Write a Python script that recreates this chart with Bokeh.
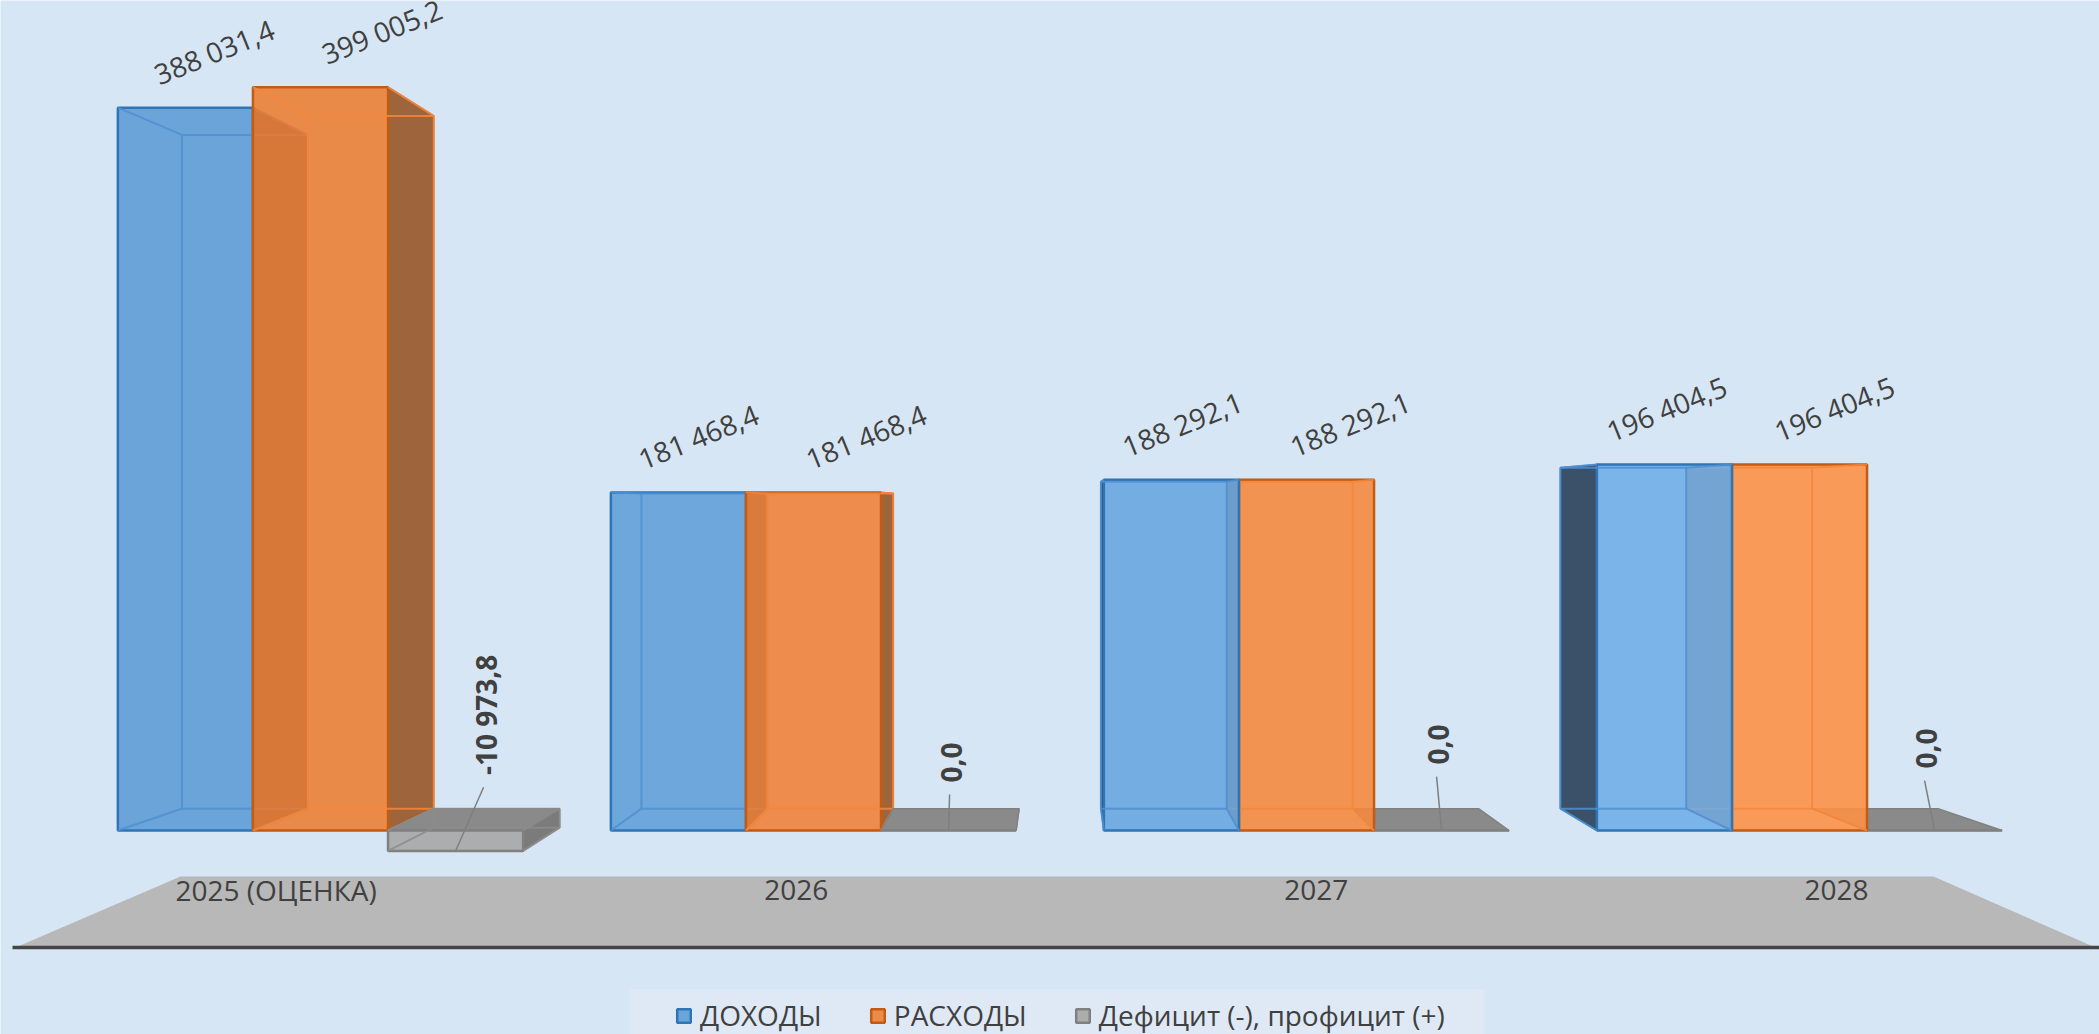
from bokeh.plotting import figure
from bokeh.models import Range1d, Legend, LegendItem
from bokeh.core.properties import value
from bokeh.embed import file_html
from bokeh.resources import INLINE

# ---------------- data ----------------
categories = ["2025 (ОЦЕНКА)", "2026", "2027", "2028"]
series_names = ["ДОХОДЫ", "РАСХОДЫ", "Дефицит (-), профицит (+)"]
revenue = [388031.4, 181468.4, 188292.1, 196404.5]
expense = [399005.2, 181468.4, 188292.1, 196404.5]
balance = [-10973.8, 0.0, 0.0, 0.0]


def fmt(v):
    return f"{v:,.1f}".replace(",", " ").replace(".", ",")


# ---------------- layout / style ----------------
W, H = 2099, 1034
MARGIN = 0
CAT_PX = 493.0      # page px per category
CAT0_PX = 320.0     # page x of first group centre
BASE_PX = 830.0     # page y of the value 0
UPP = 536.8         # value units per page px

def X(px):
    return (px - CAT0_PX) / CAT_PX

def Y(py):
    return (BASE_PX - py) * UPP

BAR_W = 0.274
VP_X = (len(categories) - 1) / 2.0
VP_Y = Y(508.7)
K = 0.932

def back(x, y):
    return VP_X + (x - VP_X) * K, VP_Y + (y - VP_Y) * K

def brighten(hexcol, d):
    r, g, b = (int(hexcol[k:k + 2], 16) for k in (1, 3, 5))
    return "#%02x%02x%02x" % tuple(min(255, c + d) for c in (r, g, b))

BG = "#d7e6f4"
FONT = value("Open Sans")
TXT = "#404040"
LIGHT = [0, 3, 10, 18]   # simulated lighting across the scene

styles = [
    dict(fill="#5b9bd5", alpha=0.88, line="#2e75b6", side="#3b5069", inner="#4f8fd1"),
    dict(fill="#ed7d31", alpha=0.88, line="#c55a11", side="#9e643b", inner="#f2873c"),
    dict(fill="#aaaaaa", alpha=0.95, line="#808080", side="#7b7b7b", inner="#8c8c8c", top="#8a8a8a"),
]

p = figure(width=W, height=H,
           x_range=Range1d(X(MARGIN), X(MARGIN + W)),
           y_range=Range1d(Y(MARGIN + H), Y(MARGIN)),
           output_backend="svg", toolbar_location=None, min_border=0,
           x_axis_location=None, y_axis_location=None,
           background_fill_color=BG, border_fill_color=BG, outline_line_color=None)
p.grid.visible = False

# ---------------- floor ----------------
ft, fb = Y(876), Y(947)
p.patch([X(15), X(180), X(1933), X(2095)], [fb, ft, ft, fb],
        fill_color="#b8b8b8", line_color=None)
p.line([X(12), X(2099)], [fb, fb], line_color="#454545", line_width=3.5)

cat_x = [VP_X + (i - VP_X) * 1.055 - 0.0075 for i in range(len(categories))]
p.text(x=cat_x, y=[Y(889)] * len(categories), text=categories,
       text_font=FONT, text_font_size="28px", text_color=TXT,
       text_align="center", text_baseline="middle")

# ---------------- 3D bars ----------------
all_series = [revenue, expense, balance]
front_renderers = {0: [], 1: [], 2: []}

for i in range(len(categories)):
    order = [0, 1, 2] if i < VP_X else [2, 1, 0]
    for s in order:
        v = all_series[s][i]
        st = styles[s]
        fill = brighten(st["fill"], LIGHT[i]) if s < 2 else st["fill"]
        x0 = i + (s - 1.5) * BAR_W
        x1 = x0 + BAR_W
        y0, y1 = min(0.0, v), max(0.0, v)
        bx0, by0 = back(x0, y0)
        bx1, by1 = back(x1, y1)
        # visible side face
        if bx1 > x1:
            p.patch([x1, bx1, bx1, x1], [y0, by0, by1, y1],
                    fill_color=st["side"], fill_alpha=1.0,
                    line_color=st["line"], line_width=1.5, line_alpha=0.8)
        elif bx0 < x0:
            p.patch([x0, bx0, bx0, x0], [y0, by0, by1, y1],
                    fill_color=st["side"], fill_alpha=1.0,
                    line_color=st["line"], line_width=1.5, line_alpha=0.8)
        # visible top face
        if by1 > y1:
            p.patch([x0, x1, bx1, bx0], [y1, y1, by1, by1],
                    fill_color=st.get("top", st["fill"]), fill_alpha=1.0,
                    line_color=st["line"], line_width=1.5)
        # front face
        r = p.patch([x0, x1, x1, x0], [y0, y0, y1, y1],
                    fill_color=fill, fill_alpha=st["alpha"],
                    line_color=st["line"], line_width=2.5)
        front_renderers[s].append(r)
        # inner (back) edges seen through the face
        if y1 > y0:
            xs = [[bx0, bx1, bx1, bx0, bx0], [x0, bx0], [x1, bx1], [x1, bx1], [x0, bx0]]
            ys = [[by0, by0, by1, by1, by0], [y0, by0], [y0, by0], [y1, by1], [y1, by1]]
            p.multi_line(xs, ys, line_color=st["inner"], line_width=2, line_alpha=0.85)

# ---------------- value labels ----------------
LEAN = 0.018
LABEL_GAP_PX = 56
for s, off_px in ((0, 13), (1, 48)):
    vals = all_series[s]
    cx = [i + (s - 1.5) * BAR_W + BAR_W / 2 for i in range(len(vals))]
    lx = [c + LEAN * (VP_X - c) for c in cx]
    ly = [v + LABEL_GAP_PX * UPP for v in vals]
    p.text(x=lx, y=ly, text=[fmt(v) for v in vals], x_offset=off_px,
           angle=0.384, text_font=FONT, text_font_size="28px", text_color=TXT,
           text_align="center", text_baseline="middle")

# balance labels (vertical, bold) with leader lines
bal_dx = [30, 3, -3, -8]
bal_dy = [-136, -68, -86, -82]
bcx = [i + 0.5 * BAR_W + BAR_W / 2 for i in range(len(balance))]
blx = [c + dx / CAT_PX for c, dx in zip(bcx, bal_dx)]
bly = [v - dy * UPP for v, dy in zip(balance, bal_dy)]
btxt = [fmt(v) for v in balance]
p.text(x=blx, y=bly, text=btxt, angle=1.5708,
       text_font=FONT, text_font_size="28px", text_font_style="bold",
       text_color=TXT, text_align="center", text_baseline="middle")
lead_xs, lead_ys = [], []
for c, v, lx_, ly_, t in zip(bcx, balance, blx, bly, btxt):
    half = len(t) * 6.7 + 12
    lead_xs.append([lx_ - 2 / CAT_PX, c])
    lead_ys.append([ly_ - half * UPP, v])
p.multi_line(lead_xs, lead_ys, line_color="#7f7f7f", line_width=1.5)

# ---------------- legend ----------------
p.quad(left=[X(629)], right=[X(1484)], top=[Y(989)], bottom=[Y(1045)],
       fill_color="#dfe9f5", line_color=None)
legend = Legend(items=[LegendItem(label=series_names[s], renderers=front_renderers[s][:1])
                       for s in range(3)],
                location=(675, 0), orientation="horizontal",
                label_text_font="Open Sans", label_text_font_size="28px",
                label_text_color=TXT, glyph_width=17, glyph_height=17,
                label_standoff=8, spacing=47, padding=0, margin=0,
                background_fill_alpha=0, border_line_alpha=0)
p.add_layout(legend)

open("out.html", "w").write(file_html(p, INLINE))
